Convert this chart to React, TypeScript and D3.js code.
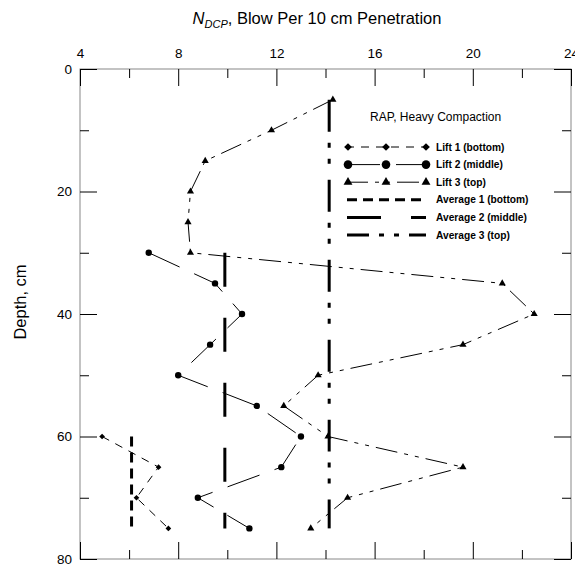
import React, { useEffect, useRef } from 'react'
import * as d3 from 'd3'

// depths (cm) where each lift was measured
const lift1Depth = [60, 65, 70, 75]
const lift1Blows = [4.9, 7.2, 6.3, 7.6]
const lift2Depth = [30, 35, 40, 45, 50, 55, 60, 65, 70, 75]
const lift2Blows = [6.8, 9.5, 10.6, 9.3, 8.0, 11.2, 13.0, 12.2, 8.8, 10.9]
const lift3Depth = [5, 10, 15, 20, 25, 30, 35, 40, 45, 50, 55, 60, 65, 70, 75]
const lift3Blows = [14.3, 11.8, 9.1, 8.5, 8.4, 8.5, 21.2, 22.5, 19.6, 13.7, 12.3, 14.1, 19.6, 14.9, 13.4]

// averages: value and depth range
const avgValues = [6.1, 9.9, 14.15]
const avgTop = [60, 30, 5]
const avgBottom = [75, 75, 75]

const xMajor = [4, 8, 12, 16, 20, 24]
const xMinor = [6, 10, 14, 18, 22]
const yMajor = [0, 20, 40, 60, 80]
const yMinor = [10, 30, 50, 70]

const legendLabels = ['Lift 1 (bottom)', 'Lift 2 (middle)', 'Lift 3 (top)', 'Average 1 (bottom)', 'Average 2 (middle)', 'Average 3 (top)']

const FONT = 'Arial, "Liberation Sans", sans-serif'
const W = 575, H = 568

export default function App() {
  const ref = useRef<SVGSVGElement>(null)

  useEffect(() => {
    const svg = d3.select(ref.current)
    svg.selectAll('*').remove()

    const x = d3.scaleLinear().domain([4, 24]).range([80, 571])
    const y = d3.scaleLinear().domain([0, 80]).range([69, 559])

    // frame
    svg.append('rect')
      .attr('x', 80).attr('y', 69).attr('width', 491).attr('height', 490)
      .attr('fill', 'none').attr('stroke', '#888').attr('stroke-width', 1)

    const styleAxis = (g: any) => {
      g.select('.domain').remove()
      g.selectAll('line').attr('stroke', '#000')
      g.selectAll('text').attr('font-family', FONT).attr('font-size', 13.5).attr('fill', '#000')
    }

    svg.append('g').attr('transform', 'translate(0,69)')
      .call(d3.axisTop(x).tickValues(xMajor).tickSize(-17).tickPadding(11).tickFormat(d3.format('d')))
      .call(styleAxis)
    svg.append('g').attr('transform', 'translate(0,69)')
      .call(d3.axisTop(x).tickValues(xMinor).tickSize(-9).tickFormat(() => ''))
      .call(styleAxis)
    svg.append('g').attr('transform', 'translate(0,559)')
      .call(d3.axisBottom(x).tickValues(xMajor).tickSize(-17).tickFormat(() => ''))
      .call(styleAxis)
    svg.append('g').attr('transform', 'translate(0,559)')
      .call(d3.axisBottom(x).tickValues(xMinor).tickSize(-9).tickFormat(() => ''))
      .call(styleAxis)
    svg.append('g').attr('transform', 'translate(80,0)')
      .call(d3.axisLeft(y).tickValues(yMajor).tickSize(-17).tickPadding(8).tickFormat(d3.format('d')))
      .call(styleAxis)
    svg.append('g').attr('transform', 'translate(80,0)')
      .call(d3.axisLeft(y).tickValues(yMinor).tickSize(-9).tickFormat(() => ''))
      .call(styleAxis)
    svg.append('g').attr('transform', 'translate(571,0)')
      .call(d3.axisRight(y).tickValues(yMajor).tickSize(-17).tickFormat(() => ''))
      .call(styleAxis)
    svg.append('g').attr('transform', 'translate(571,0)')
      .call(d3.axisRight(y).tickValues(yMinor).tickSize(-9).tickFormat(() => ''))
      .call(styleAxis)

    // titles
    const title = svg.append('text')
      .attr('x', 317).attr('y', 24).attr('text-anchor', 'middle')
      .attr('font-family', FONT).attr('font-size', 16.5)
    title.append('tspan').attr('font-style', 'italic').text('N')
    title.append('tspan').attr('font-style', 'italic').attr('font-size', 11).attr('dy', 4).text('DCP')
    title.append('tspan').attr('dy', -4).text(', Blow Per 10 cm Penetration')

    svg.append('text')
      .attr('transform', 'translate(26,302) rotate(-90)')
      .attr('text-anchor', 'middle')
      .attr('font-family', FONT).attr('font-size', 16.5)
      .text('Depth, cm')

    const lifts = [
      { depth: lift1Depth, blows: lift1Blows, dash: '8,7', symbol: 'diamond' },
      { depth: lift2Depth, blows: lift2Blows, dash: '34,16', symbol: 'circle' },
      { depth: lift3Depth, blows: lift3Blows, dash: '22,7,4,7,4,7', symbol: 'triangle' },
    ]
    const avgDash = ['10,6', '34,31', '32,11,5,11,5,16']

    const marker = (g: any, kind: string, cx: number, cy: number, big: boolean) => {
      if (kind === 'diamond') {
        g.append('path').attr('d', d3.symbol(d3.symbolSquare, big ? 30 : 16)())
          .attr('transform', `translate(${cx},${cy}) rotate(45)`).attr('fill', '#000')
      } else if (kind === 'circle') {
        g.append('circle').attr('cx', cx).attr('cy', cy).attr('r', big ? 4.3 : 3.2).attr('fill', '#000')
      } else {
        g.append('path').attr('d', d3.symbol(d3.symbolTriangle, big ? 34 : 22)())
          .attr('transform', `translate(${cx},${cy})`).attr('fill', '#000')
      }
    }

    // averages
    avgValues.forEach((v, i) => {
      svg.append('line')
        .attr('x1', x(v)).attr('x2', x(v))
        .attr('y1', y(avgTop[i])).attr('y2', y(avgBottom[i]))
        .attr('stroke', '#000').attr('stroke-width', 3)
        .attr('stroke-dasharray', avgDash[i])
    })

    // lifts
    lifts.forEach(l => {
      const pts = l.depth.map((d, i) => [l.blows[i], d] as [number, number])
      const line = d3.line<[number, number]>().x(p => x(p[0])).y(p => y(p[1]))
      svg.append('path').attr('d', line(pts))
        .attr('fill', 'none').attr('stroke', '#000').attr('stroke-width', 1)
        .attr('stroke-dasharray', l.dash)
      const g = svg.append('g')
      pts.forEach(p => marker(g, l.symbol, x(p[0]), y(p[1]), false))
    })

    // legend
    svg.append('text')
      .attr('x', 370).attr('y', 121)
      .attr('font-family', FONT).attr('font-size', 12)
      .text('RAP, Heavy Compaction')

    const lx0 = 346, lx1 = 426
    legendLabels.forEach((lab, i) => {
      const ly = 147 + i * 17.6
      const g = svg.append('g')
      if (i < 3) {
        g.append('line').attr('x1', lx0).attr('x2', lx1).attr('y1', ly).attr('y2', ly)
          .attr('stroke', '#000').attr('stroke-width', 1)
          .attr('stroke-dasharray', lifts[i].dash)
        ;[lx0 + 2, (lx0 + lx1) / 2, lx1].forEach(cx => marker(g, lifts[i].symbol, cx, ly, true))
      } else {
        g.append('line').attr('x1', lx0 + 1).attr('x2', lx1).attr('y1', ly).attr('y2', ly)
          .attr('stroke', '#000').attr('stroke-width', 3)
          .attr('stroke-dasharray', i === 3 ? '10,6' : i === 4 ? '34,30' : '22,10,5,10,5,10')
      }
      g.append('text').attr('x', 436).attr('y', ly + 3.5)
        .attr('font-family', FONT).attr('font-size', 10.2).attr('font-weight', 'bold')
        .text(lab)
    })
  }, [])

  return (
    <svg ref={ref} width={W} height={H}
      style={{ position: 'absolute', left: 0, top: 0, background: '#fff' }} />
  )
}
